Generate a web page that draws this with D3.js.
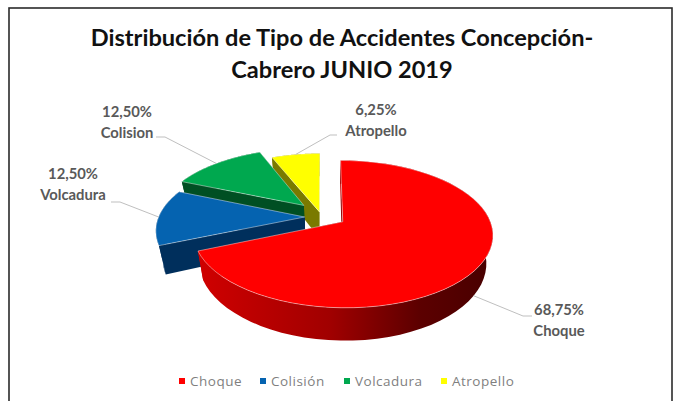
<!DOCTYPE html>
<html>
<head>
<meta charset="utf-8">
<title>Distribución de Tipo de Accidentes</title>
<style>
	html, body { margin: 0; padding: 0; background: #fff; overflow: hidden; }
	svg { display: block; }
	.title { font-family: Lato, sans-serif; font-weight: 700; font-size: 23.6px; fill: #111; text-anchor: middle; }
	.label { font-family: Lato, sans-serif; font-weight: 700; font-size: 14.8px; fill: #595959; text-anchor: middle; }
	.legend { font-family: "Open Sans", sans-serif; font-size: 13.5px; letter-spacing: 0.5px; fill: #7f7f7f; }
	.leader { fill: none; stroke: #bfbfbf; stroke-width: 1px; }
</style>
</head>
<body>
<script src="https://cdn.jsdelivr.net/npm/d3@7"></script>
<script>
// values
var categories = ["Choque", "Colisión", "Volcadura", "Atropello"];
var values = [68.75, 12.5, 12.5, 6.25];
var labelNames = ["Choque", "Volcadura", "Colision", "Atropello"]; // the original labels swap these two
var topColors = ["#ff0000", "#0563b0", "#00a84f", "#ffff00"];
var wallColors = ["url(#redWall)", "#002f5c", "#004f23", "#7a7a00"];
var titleLines = ["Distribución de Tipo de Accidentes Concepción-", "Cabrero JUNIO 2019"];

// layout of the fake 3D pie
var width = 677, height = 401;
var cx = 328, cy = 217, rx = 146, ry = 70, eye = 6, depth = 27, taper = 0.04;
var explode = [0.12, 0.16, 0.24, 0.09];
var nudgeX = [0, 0, 0, -6], nudgeY = [0, 0, 0, 1]; // yellow slice sits a bit left of its explode direction
var labelPos = [[559, 315], [73, 179], [127, 117], [376, 115]];
var elbowPos = [[532, 316], [120, 202], [165, 137], [330, 135]];
var legendX = [179, 260, 344, 441];

var svg = d3.select("body").append("svg")
	.attr("width", width)
	.attr("height", height);

var grad = svg.append("defs").append("linearGradient").attr("id", "redWall");
grad.append("stop").attr("offset", "0%").attr("stop-color", "#d00000");
grad.append("stop").attr("offset", "45%").attr("stop-color", "#a00000");
grad.append("stop").attr("offset", "75%").attr("stop-color", "#5c0000");
grad.append("stop").attr("offset", "100%").attr("stop-color", "#480000");

svg.append("rect")
	.attr("x", 9).attr("y", 8)
	.attr("width", 663).attr("height", 420)
	.attr("fill", "#fff")
	.attr("stroke", "#2b2b2b")
	.attr("stroke-width", 1.6);

var color = d3.scaleOrdinal().domain(categories).range(topColors);
var wall = d3.scaleOrdinal().domain(categories).range(wallColors);
var pct = d3.formatLocale({decimal: ",", thousands: ".", grouping: [3], currency: ["", ""]}).format(".2f");

var arcs = d3.pie().sort(null)(values);
arcs.forEach(function (d, i) {
	d.name = categories[i];
	d.mid = (d.startAngle + d.endAngle) / 2;
	d.e = explode[i];
	d.dx = nudgeX[i];
	d.dy = nudgeY[i];
});

// perspective projection of a point on the pie, r in radii, h = 0 on top face, 1 at the bottom
function project(d, angle, r, h) {
	var x = r * Math.sin(angle) + d.e * Math.sin(d.mid);
	var s = -r * Math.cos(angle) - d.e * Math.cos(d.mid);
	var k = eye / (eye - s);
	return [cx + d.dx + rx * x * k * (1 - taper * h), cy + d.dy + ry * s * k + h * depth * k];
}

function rim(d, h) {
	var n = 60, pts = d3.range(n + 1).map(function (j) {
		return project(d, d.startAngle + (d.endAngle - d.startAngle) * j / n, 1, h);
	});
	return pts;
}

var line = d3.line();

// far slices first, the red one last
var order = arcs.slice().reverse();
var groups = svg.append("g").selectAll("g")
	.data(order)
	.enter()
	.append("g");

groups.each(function (d) {
	var g = d3.select(this);
	var apexTop = project(d, 0, 0, 0), apexBot = project(d, 0, 0, 1);
	var top = rim(d, 0), bot = rim(d, 1);

	[top[0], top[top.length - 1]].forEach(function (p, i) {
		var q = i === 0 ? bot[0] : bot[bot.length - 1];
		g.append("path")
			.attr("d", line([apexTop, p, q, apexBot]) + "Z")
			.attr("fill", wall(d.name));
	});
	g.append("path")
		.attr("d", line(top.concat(bot.slice().reverse())) + "Z")
		.attr("fill", wall(d.name));
	g.append("path")
		.attr("d", line([apexTop].concat(top)) + "Z")
		.attr("fill", color(d.name))
		.attr("stroke", "#fff")
		.attr("stroke-opacity", 0.55)
		.attr("stroke-width", 0.8)
		.attr("stroke-linejoin", "round");
});

// leader lines start on the rim, the red one under its wall
svg.append("g").selectAll("path")
	.data(arcs)
	.enter()
	.append("path")
	.attr("class", "leader")
	.attr("d", function (d, i) {
		var a = project(d, d.mid, 1, i === 0 ? 1 : 0);
		var e = elbowPos[i];
		var end = [e[0] + (i === 3 ? 7 : -9), e[1]];
		if (i === 0) return line([a, [e[0] - 9, e[1]], e]);
		return line([a, e, end]);
	});

var labels = svg.append("g").selectAll("text")
	.data(arcs)
	.enter()
	.append("text")
	.attr("class", "label")
	.attr("transform", function (d, i) { return "translate(" + labelPos[i] + ")"; });
labels.append("tspan")
	.attr("x", 0)
	.text(function (d) { return pct(d.value) + "%"; });
labels.append("tspan")
	.attr("x", 0)
	.attr("dy", 21)
	.text(function (d, i) { return labelNames[i]; });

svg.append("g").selectAll("text")
	.data(titleLines)
	.enter()
	.append("text")
	.attr("class", "title")
	.attr("x", 342)
	.attr("y", function (d, i) { return 46 + i * 32; })
	.text(function (d) { return d; });

var legend = svg.append("g").selectAll("g")
	.data(categories)
	.enter()
	.append("g")
	.attr("transform", function (d, i) { return "translate(" + legendX[i] + ",381)"; });
legend.append("rect")
	.attr("y", -3)
	.attr("width", 6).attr("height", 6)
	.attr("fill", function (d) { return color(d); });
legend.append("text")
	.attr("class", "legend")
	.attr("x", 11)
	.attr("y", 5)
	.text(function (d) { return d; });
</script>
</body>
</html>
